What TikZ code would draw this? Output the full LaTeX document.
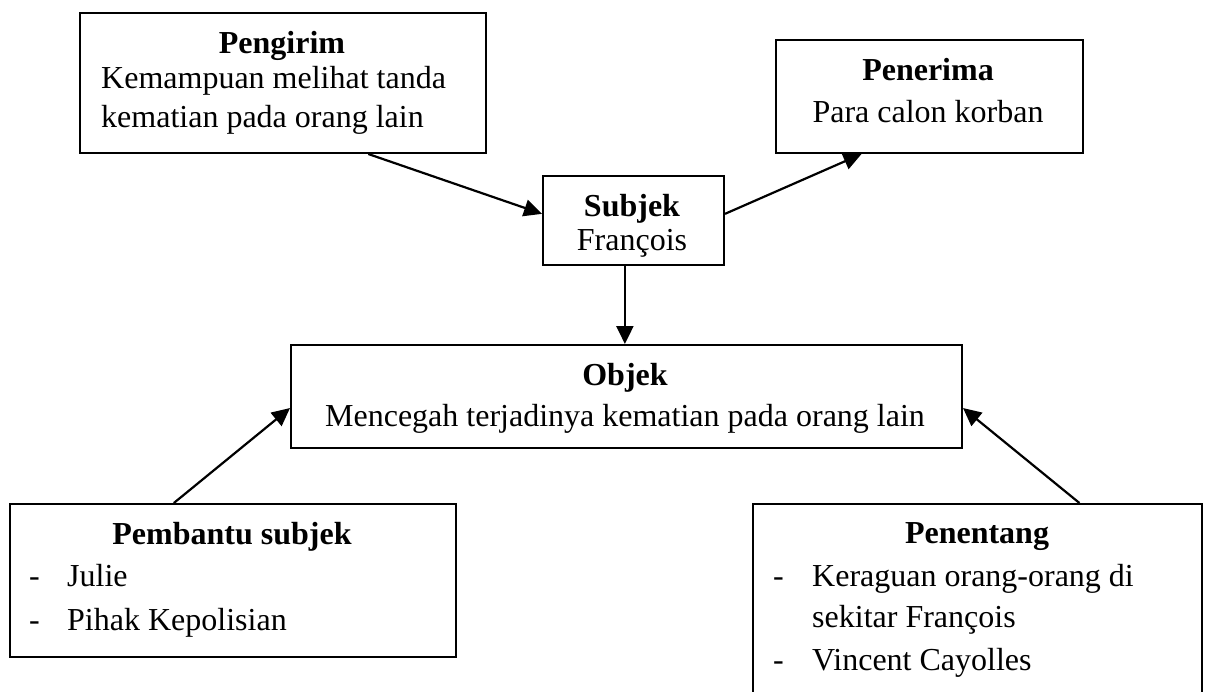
\documentclass[tikz,border=0pt]{standalone}
\usepackage{fontspec}
\setmainfont{Liberation Serif}
\usetikzlibrary{arrows.meta,calc}
\tikzset{
  box/.style={draw=black, line width=2pt, rectangle, inner sep=0pt, anchor=north west},
  tx/.style={inner sep=0pt, font=\fontsize{32}{40}\selectfont},
  arr/.style={line width=2.2pt, -{Triangle[length=18pt,width=17pt]}}
}
\begin{document}
\begin{tikzpicture}[x=1pt,y=-1pt]
\useasboundingbox (0,0) rectangle (1206,692);
\clip (0,0) rectangle (1206,692);
% boxes
\node[box, minimum width=406pt, minimum height=140pt] (peng) at (79,12) {};
\node[box, minimum width=307pt, minimum height=113pt] (pene) at (775,39) {};
\node[box, minimum width=181pt, minimum height=89pt] (subj) at (542,175) {};
\node[box, minimum width=671pt, minimum height=103pt] (obj) at (290,344) {};
\node[box, minimum width=446pt, minimum height=153pt] (pemb) at (9,503) {};
\node[box, minimum width=449pt, minimum height=230pt] (pent) at (752,503) {};
% texts
\node[tx, anchor=base] (t1) at (282,54) {\textbf{Pengirim}};
\node[tx, anchor=base west] (t2) at (101,89) {Kemampuan melihat tanda};
\node[tx, anchor=base west] (t3) at (101,128) {kematian pada orang lain};
\node[tx, anchor=base] (t4) at (928,81) {\textbf{Penerima}};
\node[tx, anchor=base] (t5) at (928,123) {Para calon korban};
\node[tx, anchor=base] (t6) at (632,217) {\textbf{Subjek}};
\node[tx, anchor=base] (t7) at (632,251) {François};
\node[tx, anchor=base] (t8) at (625,385) {\textbf{Objek}};
\node[tx, anchor=base] (t9) at (625,426) {Mencegah terjadinya kematian pada orang lain};
\node[tx, anchor=base] (t10) at (232,544) {\textbf{Pembantu subjek}};
\node[tx, anchor=base west] (t11) at (29,586) {-};
\node[tx, anchor=base west] (t12) at (67,586) {Julie};
\node[tx, anchor=base west] (t13) at (29,630) {-};
\node[tx, anchor=base west] (t14) at (67,630) {Pihak Kepolisian};
\node[tx, anchor=base] (t15) at (977,543) {\textbf{Penentang}};
\node[tx, anchor=base west] (t16) at (773,586) {-};
\node[tx, anchor=base west] (t17) at (812,586) {Keraguan orang-orang di};
\node[tx, anchor=base west] (t18) at (812,627) {sekitar François};
\node[tx, anchor=base west] (t19) at (773,670) {-};
\node[tx, anchor=base west] (t20) at (812,670) {Vincent Cayolles};
% connectors
\draw[arr] ($(peng.south west)!0.709!(peng.south east)$) -- ($(subj.north west)!0.427!(subj.south west)$);
\draw[arr] ($(subj.north east)!0.427!(subj.south east)$) -- ($(pene.south west)!0.28!(pene.south east)$);
\coordinate (sb) at ($(subj.south west)!0.453!(subj.south east)$);
\draw[arr] (sb) -- (sb |- obj.north);
\draw[arr] ($(pemb.north west)!0.368!(pemb.north east)$) -- ($(obj.north west)!0.61!(obj.south west)$);
\draw[arr] ($(pent.north west)!0.726!(pent.north east)$) -- ($(obj.north east)!0.61!(obj.south east)$);
\end{tikzpicture}
\end{document}
